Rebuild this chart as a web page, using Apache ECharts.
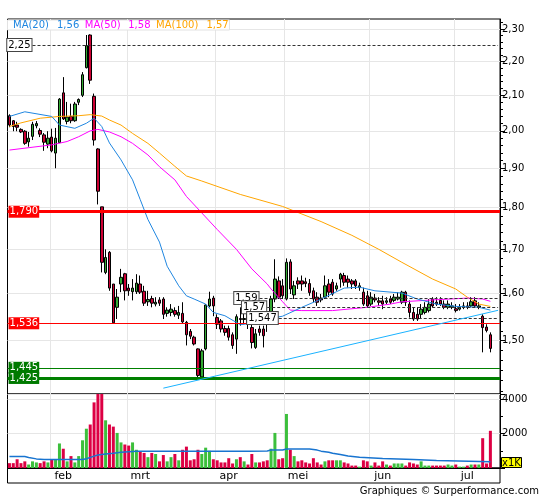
<!DOCTYPE html>
<html><head><meta charset="utf-8">
<script src="https://cdn.jsdelivr.net/npm/echarts@6/dist/echarts.min.js"></script>
<style>html,body{margin:0;padding:0;background:#fff}#c{width:545px;height:500px}</style>
</head><body><div id="c"></div>
<script>
// ---- data ----
const opens  = [2.042,2.028,2.016,2.004,1.999,1.970,1.985,2.014,2.001,1.989,1.964,1.983,1.940,1.968,2.107,2.026,2.040,2.028,2.080,2.100,2.181,2.281,2.097,1.951,1.802,1.647,1.693,1.621,1.570,1.621,1.644,1.612,1.604,1.604,1.621,1.605,1.582,1.589,1.577,1.586,1.588,1.557,1.559,1.563,1.553,1.557,1.538,1.519,1.507,1.483,1.427,1.483,1.573,1.590,1.548,1.541,1.525,1.525,1.512,1.503,1.546,1.544,1.557,1.527,1.486,1.524,1.524,1.548,1.548,1.588,1.628,1.617,1.588,1.671,1.597,1.628,1.628,1.626,1.622,1.606,1.592,1.590,1.592,1.621,1.625,1.610,1.632,1.640,1.632,1.628,1.628,1.613,1.603,1.595,1.577,1.590,1.584,1.584,1.581,1.588,1.585,1.588,1.581,1.603,1.577,1.559,1.555,1.555,1.559,1.563,1.588,1.581,1.585,1.577,1.570,1.570,1.567,1.566,1.570,1.573,1.573,1.584,1.570,1.551,1.528,1.512];
const closes = [2.016,2.012,2.010,1.997,1.966,1.980,2.018,2.020,1.991,1.969,1.980,1.946,1.980,2.089,2.033,2.038,2.028,2.075,2.088,2.160,2.248,2.144,1.975,1.841,1.670,1.681,1.612,1.537,1.592,1.636,1.606,1.606,1.612,1.623,1.603,1.579,1.587,1.579,1.581,1.579,1.555,1.564,1.566,1.555,1.559,1.539,1.512,1.509,1.493,1.430,1.479,1.575,1.588,1.573,1.534,1.524,1.517,1.507,1.490,1.550,1.544,1.546,1.537,1.496,1.514,1.517,1.510,1.534,1.588,1.632,1.592,1.595,1.670,1.610,1.617,1.621,1.621,1.622,1.602,1.588,1.581,1.586,1.617,1.603,1.599,1.617,1.643,1.625,1.625,1.621,1.617,1.617,1.577,1.573,1.592,1.586,1.581,1.577,1.584,1.581,1.592,1.592,1.603,1.581,1.559,1.545,1.545,1.566,1.570,1.577,1.573,1.577,1.577,1.570,1.577,1.573,1.563,1.570,1.573,1.570,1.582,1.573,1.573,1.527,1.521,1.484];
const lows   = [2.010,1.999,1.999,1.994,1.962,1.957,1.975,2.007,1.983,1.946,1.953,1.942,1.900,1.967,2.030,2.018,2.021,2.025,2.072,2.095,2.179,2.133,1.960,1.808,1.647,1.643,1.606,1.535,1.545,1.603,1.585,1.595,1.585,1.599,1.599,1.573,1.573,1.570,1.572,1.573,1.545,1.550,1.551,1.550,1.545,1.536,1.490,1.503,1.490,1.425,1.424,1.480,1.570,1.551,1.524,1.517,1.510,1.500,1.483,1.473,1.531,1.534,1.524,1.484,1.483,1.510,1.486,1.518,1.545,1.581,1.588,1.588,1.585,1.599,1.588,1.610,1.606,1.614,1.595,1.581,1.573,1.581,1.588,1.592,1.595,1.606,1.613,1.617,1.613,1.610,1.610,1.606,1.573,1.570,1.573,1.581,1.573,1.566,1.577,1.577,1.581,1.585,1.577,1.573,1.548,1.541,1.541,1.545,1.555,1.559,1.570,1.573,1.573,1.566,1.566,1.566,1.559,1.563,1.566,1.566,1.570,1.570,1.566,1.476,1.517,1.476];
const highs  = [2.046,2.030,2.025,2.007,2.002,1.997,2.025,2.027,2.007,1.994,1.999,2.006,2.008,2.092,2.153,2.081,2.076,2.081,2.091,2.168,2.281,2.283,2.105,1.953,1.802,1.700,1.696,1.621,1.610,1.655,1.646,1.621,1.632,1.643,1.640,1.617,1.606,1.595,1.592,1.592,1.592,1.570,1.577,1.570,1.573,1.581,1.541,1.524,1.510,1.484,1.483,1.577,1.604,1.595,1.555,1.545,1.531,1.531,1.517,1.555,1.570,1.563,1.563,1.534,1.524,1.531,1.531,1.555,1.595,1.677,1.638,1.632,1.679,1.677,1.628,1.636,1.640,1.635,1.632,1.613,1.603,1.599,1.640,1.632,1.632,1.624,1.646,1.646,1.640,1.632,1.632,1.624,1.613,1.606,1.603,1.599,1.592,1.595,1.592,1.595,1.599,1.603,1.606,1.606,1.585,1.570,1.570,1.577,1.581,1.588,1.592,1.592,1.592,1.585,1.585,1.581,1.577,1.577,1.581,1.581,1.592,1.592,1.581,1.555,1.534,1.517];
const volumes = [282,282,508,282,386,202,386,324,282,386,324,467,467,1426,1120,386,692,324,692,1610,2283,2528,3813,4302,4364,2772,2528,2405,2038,1487,1365,1304,1487,1059,936,875,630,875,814,386,753,386,630,814,447,1059,1242,447,508,1059,814,1181,998,508,447,324,324,569,263,508,630,386,202,814,324,324,386,447,1120,2038,508,569,3140,1059,692,386,447,324,263,569,324,202,386,447,447,447,447,324,263,141,141,79,447,386,141,324,141,386,202,141,263,263,263,141,324,263,202,386,141,141,141,141,141,141,202,141,202,79,79,141,202,202,202,1732,263,2161];
// moving averages as read at points along the lines: [candle index, value]
const ma20  = [[0,2.040],[4,2.053],[11,2.040],[13,2.016],[17,2.007],[20,2.021],[22,2.035],[24,2.012],[26,1.967],[29,1.922],[32,1.870],[34,1.820],[36,1.771],[39,1.717],[41,1.661],[44,1.617],[46,1.595],[48,1.588],[51,1.577],[53,1.559],[56,1.552],[60,1.533],[63,1.536],[67,1.545],[71,1.551],[76,1.570],[81,1.588],[87,1.612],[91,1.614],[95,1.606],[102,1.601],[106,1.588],[111,1.577],[116,1.572],[122,1.570],[125,1.564]];
const ma50  = [[0,1.948],[11,1.962],[15,1.971],[18,1.984],[21,2.000],[23,2.004],[26,1.997],[29,1.984],[32,1.966],[36,1.935],[39,1.904],[43,1.870],[46,1.828],[50,1.787],[54,1.747],[59,1.700],[63,1.655],[67,1.621],[68,1.610],[71,1.582],[73,1.564],[76,1.563],[84,1.563],[93,1.570],[99,1.577],[102,1.582],[110,1.586],[119,1.590],[123,1.588],[125,1.583]];
const ma100 = [[0,2.012],[3,2.022],[8,2.035],[13,2.040],[18,2.042],[21,2.045],[24,2.041],[26,2.030],[29,2.016],[32,1.993],[36,1.966],[39,1.940],[43,1.905],[46,1.880],[50,1.867],[60,1.833],[71,1.803],[81,1.766],[89,1.733],[96,1.700],[102,1.670],[110,1.632],[116,1.610],[119,1.592],[122,1.577],[125,1.572]];
const volMA = [[0,673],[4,665],[5,612],[7,530],[9,495],[19,490],[20,540],[22,690],[23,750],[25,810],[27,860],[29,915],[33,975],[62,980],[67,990],[68,1040],[71,1045],[72,1100],[78,1100],[80,1040],[81,980],[83,920],[84,860],[86,780],[88,700],[91,620],[97,550],[105,490],[111,430],[125,370]];
const legendValues = ['1,56','1,58','1,57'];
const monthStarts = [11,31,54,72,94,116];
const monthLabels = ['feb','mrt','apr','mei','jun','jul'];
const priceTicks = [1.5,1.6,1.7,1.8,1.9,2.0,2.1,2.2,2.3];
const levelRed = [1.790, 1.536];
const levelGreen = [1.445, 1.425];
const dashLevels = [[6,2.25,'2,25'],[65,1.59,'1,59'],[67,1.57,'1,57'],[70,1.547,'1,547']];
const trendStart = [40, 1.4052], trendEnd = [127, 1.5636];
// ---- chart ----
const SLOTS = 128;
const cats = Array.from({length: SLOTS}, (_, i) => String(i));
const yMin = 1.394, yMax = 2.3317;
const minorTicks = [];
for (let k = 70; k <= 116; k++) minorTicks.push(k * 0.02);
const lastIdx = SLOTS - 1;
const C20 = '#1f86e0', C50 = '#ff00ff', C100 = '#ffa500';
const UP = '#33aa33', DOWN = '#cc0033';
const fmtP = v => v.toFixed(2).replace('.', ',');
const boxLabel = (txt, bg, fg, border) => ({show: true, position: 'start', distance: 1, formatter: txt,
  backgroundColor: bg, color: fg, borderColor: border, borderWidth: border ? 1 : 0,
  padding: [1, 1, 0, 1], fontSize: 10, fontFamily: 'DejaVu Sans', lineHeight: 11});

const mlData = [];
levelRed.forEach((v, k) => {
  const w = k === 0 ? 3 : 1;
  mlData.push({yAxis: v, lineStyle: {color: '#ff0000', width: w, type: 'solid'}, label: {show: false}});
  mlData.push([{coord: [8, v], lineStyle: {color: '#ff0000', width: w, type: 'solid'},
    label: boxLabel(v.toFixed(3).replace('.', ','), '#ff0000', '#fff', null)}, {coord: [lastIdx, v]}]);
});
levelGreen.forEach((v, k) => {
  const w = k === 1 ? 3 : 1;
  mlData.push({yAxis: v, lineStyle: {color: '#008000', width: w, type: 'solid'}, label: {show: false}});
  mlData.push([{coord: [8, v], lineStyle: {color: '#008000', width: w, type: 'solid'},
    label: boxLabel(v.toFixed(3).replace('.', ','), '#007a00', '#fff', null)}, {coord: [lastIdx, v]}]);
});
dashLevels.forEach(([s, v, t]) => {
  mlData.push([{coord: [s, v], lineStyle: {color: '#333', width: 1, type: [3, 2]},
    label: boxLabel(t, '#fff', '#000', '#444')}, {coord: [lastIdx, v]}]);
});
mlData.push([{coord: trendStart, lineStyle: {color: '#1ab2ff', width: 1, type: 'solid'}, label: {show: false}}, {coord: trendEnd}]);

const option = {
  animation: false,
  textStyle: {fontFamily: 'DejaVu Sans'},
  title: [
    {left: 7.5, top: 19.5, padding: [1, 1, 0, 5.5], backgroundColor: '#fff', borderColor: '#e2e2e2', borderWidth: 1,
     text: '{a|MA(20)}{av|' + legendValues[0] + '}{b|MA(50)}{bv|' + legendValues[1] + '}{c|MA(100)}{cv|' + legendValues[2] + '}',
     textStyle: {fontSize: 10, fontWeight: 'normal', rich: {
       a: {color: C20, fontSize: 10, padding: [0, 8, 0, 0]}, av: {color: C20, fontSize: 10, padding: [0, 5.5, 0, 0]},
       b: {color: C50, fontSize: 10, padding: [0, 7.5, 0, 0]}, bv: {color: C50, fontSize: 10, padding: [0, 5.5, 0, 0]},
       c: {color: C100, fontSize: 10, padding: [0, 8, 0, 0]}, cv: {color: C100, fontSize: 10, padding: [0, 0, 0, 0]}}}},
    {right: 6, top: 486, padding: 0, text: 'Graphiques © Surperformance.com', textStyle: {fontSize: 10, fontWeight: 'normal', color: '#000'}},
    {left: 501, top: 457, padding: [1, 1, 0, 1], backgroundColor: '#ffff00', borderColor: '#000', borderWidth: 1, text: 'x1K', textStyle: {fontSize: 10, fontWeight: 'normal', color: '#000'}}
  ],
  graphic: [{type: 'rect', shape: {x: 7.5, y: 468, width: 492.5, height: 15}, style: {fill: 'none', stroke: '#000', lineWidth: 1}, silent: true}],
  grid: [
    {left: 7.5, top: 19, width: 492.5, height: 375, show: true, borderColor: '#000', borderWidth: 1},
    {left: 7.5, top: 394, width: 492.5, height: 74, show: true, borderColor: '#000', borderWidth: 1}
  ],
  xAxis: [
    {type: 'category', gridIndex: 0, data: cats, boundaryGap: true, axisLine: {show: false}, axisTick: {show: false}, axisLabel: {show: false},
     splitLine: {show: true, interval: (i) => monthStarts.includes(i), lineStyle: {color: '#e6e6e6'}}},
    {type: 'category', gridIndex: 1, data: cats, boundaryGap: true, axisLine: {onZero: false, lineStyle: {color: '#000'}}, axisTick: {show: false},
     axisLabel: {interval: (i) => monthStarts.includes(i - 3), formatter: (v, i) => monthLabels[monthStarts.indexOf(i - 3)] || '', fontSize: 11, color: '#000', margin: 3},
     splitLine: {show: true, interval: (i) => monthStarts.includes(i), lineStyle: {color: '#e6e6e6'}}}
  ],
  yAxis: [
    {type: 'log', gridIndex: 0, min: yMin, max: yMax, show: false},
    {type: 'value', gridIndex: 0, min: Math.log(yMin), max: Math.log(yMax), position: 'right',
     axisLine: {show: true, lineStyle: {color: '#000'}},
     axisTick: {show: true, customValues: priceTicks.map(Math.log), length: 5, lineStyle: {color: '#000'}},
     axisLabel: {customValues: priceTicks.map(Math.log), formatter: v => fmtP(Math.exp(v)), fontSize: 10, color: '#000', margin: 2},
     splitLine: {show: true, lineStyle: {color: '#e6e6e6'}}},
    {type: 'value', gridIndex: 0, min: Math.log(yMin), max: Math.log(yMax), position: 'right',
     axisLine: {show: false}, axisLabel: {show: false}, splitLine: {show: false},
     axisTick: {show: true, customValues: minorTicks.map(Math.log), length: 3, lineStyle: {color: '#000'}}},
    {type: 'value', gridIndex: 1, min: 0, max: 4300, interval: 2000, position: 'right',
     axisLine: {show: true, lineStyle: {color: '#000'}}, axisTick: {show: true, length: 5, lineStyle: {color: '#000'}},
     minorTick: {show: true, splitNumber: 2, length: 3, lineStyle: {color: '#000'}},
     axisLabel: {formatter: v => (v === 0 ? '' : String(v)), fontSize: 10, color: '#000', margin: 2},
     splitLine: {show: true, lineStyle: {color: '#e6e6e6'}}}
  ],
  series: [
    {type: 'line', name: 'MA100', xAxisIndex: 0, yAxisIndex: 0, data: ma100, symbol: 'none', lineStyle: {color: C100, width: 1}, z: 3},
    {type: 'line', name: 'MA50', xAxisIndex: 0, yAxisIndex: 0, data: ma50, symbol: 'none', lineStyle: {color: C50, width: 1}, z: 3},
    {type: 'line', name: 'MA20', xAxisIndex: 0, yAxisIndex: 0, data: ma20, symbol: 'none', lineStyle: {color: C20, width: 1}, z: 3},
    {type: 'candlestick', xAxisIndex: 0, yAxisIndex: 0, barWidth: 3,
     data: opens.map((o, i) => [o, closes[i], lows[i], highs[i]]),
     itemStyle: {color: UP, color0: DOWN, borderColor: '#000', borderColor0: '#000', borderWidth: 1},
     z: 2,
     markLine: {silent: true, symbol: ['none', 'none'], animation: false, precision: 4, data: mlData}},
    {type: 'bar', xAxisIndex: 1, yAxisIndex: 3, barWidth: 3,
     data: volumes.map((v, i) => ({value: v, itemStyle: {color: closes[i] >= opens[i] ? '#3cbf3c' : '#dd0044'}}))},
    {type: 'line', xAxisIndex: 1, yAxisIndex: 3, data: volMA, symbol: 'none', lineStyle: {color: '#1874d0', width: 1.5}, z: 3}
  ]
};
const chart = echarts.init(document.getElementById('c'), null, {renderer: 'canvas'});
chart.setOption(option);
</script>
</body></html>
